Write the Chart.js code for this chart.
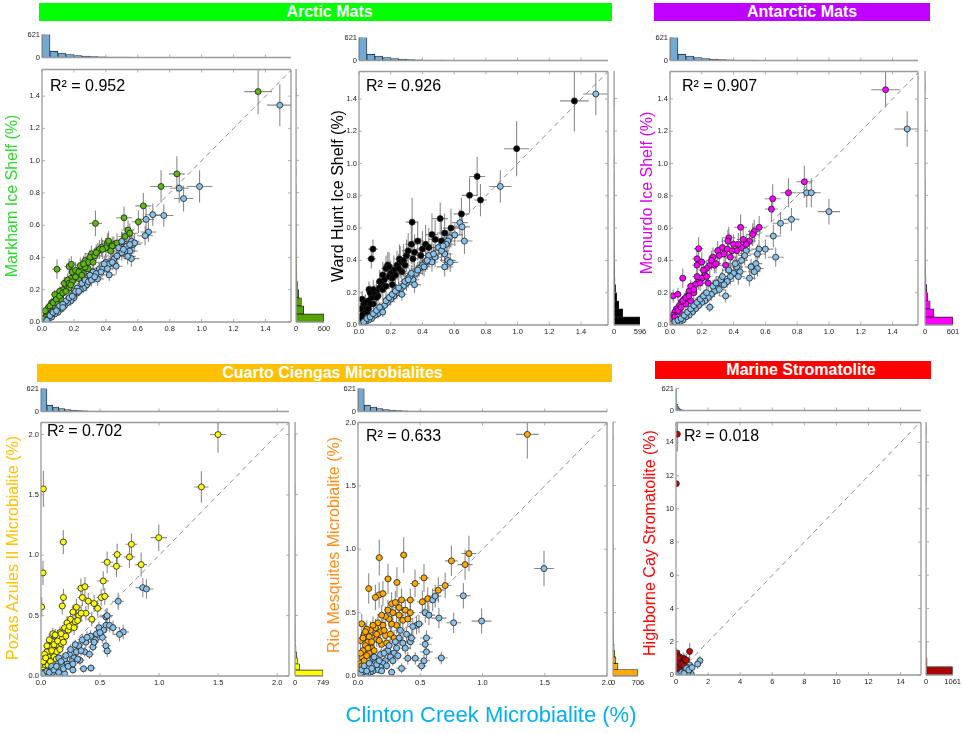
<!DOCTYPE html>
<html>
<head>
<meta charset="utf-8">
<script src="https://cdn.jsdelivr.net/npm/chart.js@4.4.1/dist/chart.umd.min.js"></script>
<style>
  body { margin: 0; width: 964px; height: 734px; position: relative; background: #fff; overflow: hidden;
         font-family: 'Liberation Sans', Arial, sans-serif; }
  .box { position: absolute; }
  .hdr { position: absolute; color: #fff; font-weight: bold; font-size: 16px; line-height: 18px; text-align: center; box-sizing: border-box; }
  .ytitle { position: absolute; font-size: 16px; white-space: nowrap; transform: translate(-50%, -50%) rotate(-90deg); }
  .r2 { position: absolute; font-size: 16px; line-height: 16px; white-space: nowrap; }
  .xtitle { position: absolute; font-size: 22px; white-space: nowrap; color: #00b0f0; transform: translateX(-50%); }
</style>
</head>
<body>
<script>
// ---- data: [x (Clinton Creek %), y (sample %), x error, y error] ----
var markhamPts = [
  [1.354,1.428,0.087,0.14],[0.845,0.918,0.05,0.11],[0.746,0.84,0.07,0.1],[0.635,0.72,0.05,0.08],
  [0.335,0.611,0.04,0.08],[0.514,0.646,0.05,0.07],[0.604,0.621,0.04,0.07],[0.539,0.57,0.04,0.06],
  [0.52,0.53,0.04,0.06],[0.094,0.327,0.03,0.06],[0.17,0.344,0.03,0.05],[0.184,0.358,0.03,0.05],
  [0.409,0.488,0.04,0.06],[0.417,0.502,0.04,0.06],[0.45,0.48,0.04,0.05],[0.47,0.49,0.05,0.06],
  [0.373,0.463,0.04,0.06],[0.31,0.422,0.04,0.05],[0.35,0.44,0.04,0.05],[0.28,0.36,0.03,0.05],
  [0.25,0.33,0.03,0.05],[0.22,0.30,0.03,0.04],[0.20,0.28,0.03,0.04],[0.18,0.27,0.03,0.04],
  [0.15,0.22,0.02,0.04],[0.13,0.20,0.02,0.03],[0.12,0.17,0.02,0.03],[0.10,0.15,0.02,0.03],
  [0.08,0.13,0.02,0.03],[0.07,0.10,0.02,0.02],[0.05,0.08,0.01,0.02],[0.04,0.06,0.01,0.02],
  [0.03,0.05,0.01,0.01],[0.02,0.03,0.01,0.01],[0.01,0.02,0.01,0.01],[0.06,0.12,0.02,0.03],
  [0.09,0.16,0.02,0.03],[0.11,0.19,0.02,0.03],[0.14,0.24,0.03,0.04],[0.16,0.26,0.03,0.04],
  [0.19,0.31,0.03,0.04],[0.21,0.32,0.03,0.05],[0.24,0.35,0.03,0.05],[0.27,0.38,0.03,0.05],
  [0.30,0.40,0.04,0.05],[0.33,0.41,0.04,0.05],[0.36,0.45,0.04,0.06],[0.40,0.46,0.04,0.06],
  [0.44,0.47,0.04,0.06],[0.50,0.50,0.05,0.06],[0.55,0.55,0.05,0.06],[0.08,0.17,0.02,0.03],
  [0.23,0.27,0.03,0.04],[0.26,0.30,0.03,0.04],[0.29,0.33,0.03,0.04],[0.12,0.14,0.02,0.03],
  [0.17,0.21,0.03,0.03],[0.04,0.09,0.01,0.02],[0.02,0.07,0.01,0.02],
  [0.05,0.10,0.01,0.02],[0.07,0.12,0.02,0.02],[0.09,0.14,0.02,0.03],[0.11,0.16,0.02,0.03],
  [0.13,0.18,0.02,0.03],[0.15,0.19,0.02,0.03],[0.17,0.24,0.03,0.04],[0.19,0.25,0.03,0.04],
  [0.21,0.28,0.03,0.04],[0.23,0.31,0.03,0.04],[0.25,0.29,0.03,0.04],[0.27,0.34,0.03,0.05],
  [0.29,0.37,0.03,0.05],[0.32,0.37,0.04,0.05],[0.34,0.43,0.04,0.05],[0.38,0.45,0.04,0.06],
  [0.43,0.44,0.04,0.06],[0.26,0.36,0.03,0.05],[0.18,0.23,0.03,0.04],[0.10,0.11,0.02,0.02]
];
var markhamBlue = [
  [1.49,1.344,0.08,0.13],[0.987,0.84,0.08,0.1],[0.86,0.829,0.06,0.09],[0.887,0.765,0.06,0.08],
  [0.763,0.66,0.06,0.07],[0.694,0.665,0.05,0.07],[0.652,0.636,0.05,0.07],[0.667,0.558,0.05,0.06],
  [0.646,0.535,0.05,0.06],[0.56,0.50,0.05,0.06],[0.57,0.48,0.05,0.06],[0.55,0.44,0.05,0.05],
  [0.56,0.393,0.05,0.05],[0.537,0.407,0.05,0.05],[0.52,0.44,0.04,0.05],[0.50,0.50,0.04,0.06],
  [0.48,0.46,0.04,0.05],[0.465,0.346,0.04,0.05],[0.421,0.292,0.04,0.04],[0.348,0.267,0.04,0.04],
  [0.40,0.37,0.04,0.05],[0.36,0.33,0.04,0.04],[0.32,0.31,0.03,0.04],[0.30,0.27,0.03,0.04],
  [0.28,0.23,0.03,0.04],[0.26,0.21,0.03,0.03],[0.24,0.20,0.03,0.03],[0.22,0.18,0.03,0.03],
  [0.20,0.15,0.02,0.03],[0.18,0.13,0.02,0.03],[0.16,0.12,0.02,0.02],[0.14,0.10,0.02,0.02],
  [0.12,0.08,0.02,0.02],[0.10,0.06,0.02,0.02],[0.08,0.05,0.01,0.02],[0.06,0.03,0.01,0.01],
  [0.04,0.02,0.01,0.01],[0.03,0.01,0.01,0.01],[0.06,0.05,0.01,0.02],[0.10,0.09,0.02,0.02],
  [0.15,0.13,0.02,0.03],[0.20,0.18,0.03,0.03],[0.25,0.24,0.03,0.04],[0.30,0.29,0.03,0.04],
  [0.34,0.30,0.04,0.04],[0.38,0.33,0.04,0.05],[0.42,0.36,0.04,0.05],[0.45,0.39,0.04,0.05],
  [0.50,0.43,0.04,0.05],[0.53,0.47,0.05,0.05],[0.58,0.49,0.05,0.06],[0.27,0.26,0.03,0.04],
  [0.22,0.21,0.03,0.03],
  [0.05,0.04,0.01,0.01],[0.07,0.06,0.01,0.02],[0.09,0.07,0.02,0.02],[0.11,0.10,0.02,0.02],
  [0.13,0.11,0.02,0.02],[0.17,0.15,0.02,0.03],[0.19,0.16,0.03,0.03],[0.21,0.19,0.03,0.03],
  [0.23,0.19,0.03,0.03],[0.29,0.25,0.03,0.04],[0.31,0.26,0.03,0.04],[0.33,0.28,0.04,0.04],
  [0.37,0.31,0.04,0.04],[0.39,0.36,0.04,0.05],[0.41,0.33,0.04,0.05],[0.44,0.37,0.04,0.05],
  [0.47,0.41,0.04,0.05],[0.51,0.45,0.05,0.05],[0.55,0.48,0.05,0.06],[0.13,0.09,0.02,0.02]
];
var wardPts = [
  [1.358,1.388,0.09,0.19],[0.994,1.092,0.08,0.17],[0.745,0.92,0.05,0.12],[0.697,0.803,0.05,0.11],
  [0.766,0.774,0.04,0.1],[0.646,0.688,0.05,0.1],[0.512,0.659,0.05,0.1],[0.335,0.637,0.04,0.15],
  [0.088,0.47,0.03,0.06],[0.078,0.41,0.03,0.06],[0.063,0.22,0.02,0.05],[0.181,0.372,0.03,0.08],
  [0.17,0.35,0.03,0.08],[0.255,0.409,0.03,0.09],[0.30,0.43,0.03,0.1],[0.26,0.39,0.03,0.1],
  [0.24,0.37,0.03,0.09],[0.22,0.34,0.03,0.09],[0.20,0.32,0.03,0.08],[0.19,0.30,0.03,0.08],
  [0.16,0.28,0.02,0.08],[0.14,0.26,0.02,0.07],[0.13,0.23,0.02,0.07],[0.11,0.21,0.02,0.06],
  [0.10,0.19,0.02,0.06],[0.08,0.17,0.02,0.05],[0.06,0.15,0.02,0.05],[0.05,0.12,0.01,0.04],
  [0.04,0.10,0.01,0.04],[0.03,0.08,0.01,0.03],[0.02,0.06,0.01,0.03],[0.01,0.04,0.01,0.02],
  [0.02,0.16,0.01,0.05],[0.01,0.10,0.01,0.04],[0.03,0.13,0.01,0.04],[0.12,0.18,0.02,0.06],
  [0.15,0.22,0.02,0.07],[0.28,0.40,0.03,0.1],[0.35,0.45,0.04,0.11],[0.40,0.47,0.04,0.11],
  [0.42,0.50,0.04,0.12],[0.48,0.53,0.04,0.12],[0.54,0.57,0.05,0.12],[0.58,0.60,0.05,0.12],
  [0.33,0.50,0.04,0.12],[0.37,0.52,0.04,0.12],[0.21,0.25,0.03,0.07],[0.09,0.13,0.02,0.05],
  [0.07,0.20,0.02,0.05],[0.27,0.33,0.03,0.08],
  [0.04,0.14,0.01,0.05],[0.05,0.08,0.01,0.03],[0.07,0.13,0.02,0.04],[0.09,0.22,0.02,0.06],
  [0.11,0.17,0.02,0.05],[0.13,0.27,0.02,0.07],[0.15,0.31,0.02,0.08],[0.17,0.24,0.03,0.07],
  [0.19,0.36,0.03,0.09],[0.21,0.29,0.03,0.08],[0.23,0.31,0.03,0.08],[0.25,0.35,0.03,0.09],
  [0.29,0.37,0.03,0.1],[0.31,0.46,0.04,0.11],[0.34,0.41,0.04,0.1],[0.39,0.43,0.04,0.11],
  [0.44,0.48,0.04,0.12],[0.46,0.56,0.04,0.13],[0.52,0.52,0.05,0.12],[0.06,0.10,0.02,0.04]
];
var wardBlue = [
  [1.493,1.431,0.08,0.13],[0.891,0.858,0.07,0.1],[0.665,0.52,0.05,0.08],[0.636,0.634,0.05,0.08],
  [0.65,0.608,0.05,0.08],[0.604,0.558,0.05,0.07],[0.57,0.54,0.05,0.07],[0.56,0.52,0.05,0.07],
  [0.55,0.50,0.05,0.07],[0.54,0.44,0.05,0.06],[0.56,0.40,0.05,0.06],[0.575,0.388,0.05,0.06],
  [0.50,0.48,0.04,0.07],[0.48,0.42,0.04,0.06],[0.46,0.39,0.04,0.06],[0.44,0.43,0.04,0.06],
  [0.42,0.39,0.04,0.06],[0.40,0.37,0.04,0.06],[0.38,0.35,0.04,0.05],[0.36,0.32,0.04,0.05],
  [0.34,0.28,0.04,0.05],[0.32,0.30,0.03,0.05],[0.30,0.26,0.03,0.05],[0.28,0.24,0.03,0.04],
  [0.26,0.22,0.03,0.04],[0.24,0.20,0.03,0.04],[0.22,0.18,0.03,0.04],[0.20,0.16,0.03,0.04],
  [0.18,0.14,0.02,0.03],[0.16,0.12,0.02,0.03],[0.14,0.10,0.02,0.03],[0.12,0.07,0.02,0.03],
  [0.10,0.06,0.02,0.02],[0.08,0.04,0.01,0.02],[0.06,0.03,0.01,0.02],[0.04,0.02,0.01,0.01],
  [0.02,0.01,0.01,0.01],[0.35,0.25,0.04,0.05],[0.27,0.19,0.03,0.04],[0.15,0.08,0.02,0.03],
  [0.54,0.36,0.05,0.06],
  [0.03,0.02,0.01,0.01],[0.05,0.04,0.01,0.01],[0.07,0.05,0.01,0.02],[0.09,0.07,0.02,0.02],
  [0.11,0.09,0.02,0.02],[0.13,0.11,0.02,0.03],[0.17,0.15,0.02,0.03],[0.19,0.17,0.03,0.03],
  [0.21,0.19,0.03,0.04],[0.23,0.21,0.03,0.04],[0.25,0.23,0.03,0.04],[0.29,0.27,0.03,0.05],
  [0.31,0.28,0.03,0.05],[0.33,0.32,0.04,0.05],[0.37,0.34,0.04,0.05],[0.41,0.36,0.04,0.06],
  [0.43,0.40,0.04,0.06],[0.47,0.44,0.04,0.06],[0.52,0.46,0.05,0.07],[0.53,0.49,0.05,0.07]
];
var mcmurdoPts = [
  [1.356,1.457,0.09,0.11],[0.845,0.887,0.05,0.1],[0.745,0.819,0.05,0.09],[0.646,0.782,0.05,0.09],
  [0.638,0.718,0.04,0.08],[0.444,0.605,0.04,0.08],[0.561,0.605,0.04,0.07],[0.53,0.58,0.04,0.07],
  [0.52,0.56,0.04,0.07],[0.50,0.52,0.04,0.07],[0.37,0.54,0.04,0.07],[0.364,0.52,0.04,0.07],
  [0.18,0.473,0.03,0.07],[0.17,0.41,0.03,0.06],[0.17,0.37,0.03,0.06],[0.20,0.39,0.03,0.06],
  [0.08,0.29,0.02,0.06],[0.02,0.18,0.01,0.04],[0.05,0.19,0.02,0.04],[0.30,0.46,0.03,0.06],
  [0.33,0.48,0.04,0.06],[0.27,0.42,0.03,0.06],[0.25,0.37,0.03,0.06],[0.23,0.35,0.03,0.05],
  [0.22,0.31,0.03,0.05],[0.20,0.29,0.03,0.05],[0.18,0.27,0.03,0.05],[0.16,0.25,0.02,0.05],
  [0.14,0.23,0.02,0.04],[0.12,0.21,0.02,0.04],[0.11,0.18,0.02,0.04],[0.09,0.16,0.02,0.04],
  [0.07,0.14,0.02,0.03],[0.06,0.12,0.02,0.03],[0.04,0.10,0.01,0.03],[0.03,0.08,0.01,0.02],
  [0.02,0.06,0.01,0.02],[0.01,0.04,0.01,0.02],[0.06,0.08,0.01,0.02],[0.10,0.13,0.02,0.03],
  [0.15,0.20,0.02,0.04],[0.28,0.37,0.03,0.05],[0.35,0.37,0.04,0.05],[0.38,0.42,0.04,0.06],
  [0.42,0.46,0.04,0.06],[0.45,0.48,0.04,0.06],[0.48,0.50,0.04,0.06],[0.40,0.50,0.04,0.06],
  [0.24,0.26,0.03,0.04],[0.13,0.15,0.02,0.03],
  [0.03,0.05,0.01,0.02],[0.05,0.09,0.01,0.02],[0.07,0.11,0.02,0.03],[0.08,0.15,0.02,0.03],
  [0.10,0.17,0.02,0.04],[0.12,0.18,0.02,0.04],[0.13,0.24,0.02,0.04],[0.15,0.22,0.02,0.04],
  [0.17,0.30,0.03,0.05],[0.19,0.26,0.03,0.05],[0.21,0.34,0.03,0.05],[0.23,0.30,0.03,0.05],
  [0.26,0.40,0.03,0.06],[0.29,0.38,0.03,0.06],[0.31,0.43,0.04,0.06],[0.34,0.44,0.04,0.06],
  [0.36,0.47,0.04,0.06],[0.39,0.46,0.04,0.06],[0.43,0.50,0.04,0.07],[0.46,0.53,0.04,0.07]
];
var mcmurdoBlue = [
  [1.492,1.214,0.08,0.11],[1.0,0.702,0.07,0.08],[0.86,0.819,0.06,0.09],[0.889,0.819,0.06,0.09],
  [0.764,0.654,0.05,0.07],[0.695,0.63,0.05,0.07],[0.65,0.551,0.05,0.07],[0.665,0.42,0.05,0.06],
  [0.60,0.47,0.05,0.06],[0.56,0.47,0.05,0.06],[0.55,0.44,0.05,0.06],[0.54,0.38,0.04,0.05],
  [0.55,0.35,0.04,0.05],[0.53,0.33,0.04,0.05],[0.50,0.29,0.04,0.05],[0.48,0.46,0.04,0.06],
  [0.45,0.40,0.04,0.05],[0.42,0.36,0.04,0.05],[0.40,0.32,0.04,0.05],[0.38,0.30,0.04,0.05],
  [0.36,0.27,0.04,0.04],[0.34,0.25,0.03,0.04],[0.32,0.28,0.03,0.04],[0.30,0.23,0.03,0.04],
  [0.28,0.21,0.03,0.04],[0.26,0.19,0.03,0.04],[0.24,0.17,0.03,0.03],[0.22,0.15,0.03,0.03],
  [0.20,0.14,0.02,0.03],[0.18,0.12,0.02,0.03],[0.16,0.10,0.02,0.03],[0.14,0.08,0.02,0.02],
  [0.12,0.06,0.02,0.02],[0.10,0.05,0.02,0.02],[0.08,0.03,0.01,0.02],[0.06,0.02,0.01,0.01],
  [0.04,0.01,0.01,0.01],[0.35,0.18,0.04,0.04],[0.25,0.11,0.03,0.03],[0.44,0.33,0.04,0.05],
  [0.03,0.02,0.01,0.01],[0.05,0.03,0.01,0.01],[0.07,0.04,0.01,0.02],[0.09,0.06,0.02,0.02],
  [0.11,0.08,0.02,0.02],[0.13,0.10,0.02,0.02],[0.15,0.12,0.02,0.03],[0.17,0.14,0.02,0.03],
  [0.19,0.16,0.03,0.03],[0.21,0.18,0.03,0.03],[0.23,0.20,0.03,0.04],[0.27,0.24,0.03,0.04],
  [0.29,0.26,0.03,0.04],[0.31,0.22,0.03,0.04],[0.33,0.30,0.04,0.05],[0.37,0.34,0.04,0.05],
  [0.41,0.38,0.04,0.05],[0.43,0.30,0.04,0.05],[0.47,0.43,0.04,0.06],[0.51,0.36,0.04,0.05]
];
var pozasPts = [
  [1.499,2.0,0.07,0.15],[1.358,1.566,0.06,0.13],[0.02,1.55,0.01,0.15],[0.997,1.146,0.07,0.11],
  [0.189,1.11,0.03,0.1],[0.766,1.091,0.05,0.09],[0.645,1.006,0.04,0.09],[0.749,0.986,0.05,0.09],
  [0.56,0.942,0.05,0.09],[0.639,0.909,0.05,0.09],[0.848,0.923,0.05,0.1],[0.017,0.854,0.01,0.1],
  [0.527,0.787,0.05,0.08],[0.338,0.727,0.04,0.08],[0.372,0.74,0.04,0.08],[0.006,0.572,0.01,0.08],
  [0.19,0.65,0.03,0.07],[0.18,0.58,0.03,0.07],[0.51,0.65,0.04,0.07],[0.54,0.66,0.04,0.07],
  [0.35,0.65,0.04,0.07],[0.30,0.57,0.04,0.07],[0.27,0.53,0.03,0.06],[0.40,0.62,0.04,0.07],
  [0.38,0.52,0.04,0.06],[0.25,0.47,0.03,0.06],[0.22,0.44,0.03,0.06],[0.26,0.42,0.03,0.06],
  [0.20,0.40,0.03,0.05],[0.10,0.35,0.03,0.05],[0.16,0.36,0.03,0.05],[0.14,0.33,0.03,0.05],
  [0.18,0.31,0.03,0.05],[0.12,0.28,0.02,0.05],[0.15,0.25,0.02,0.04],[0.10,0.22,0.02,0.04],
  [0.08,0.19,0.02,0.04],[0.06,0.16,0.02,0.04],[0.05,0.13,0.02,0.03],[0.04,0.10,0.01,0.03],
  [0.03,0.07,0.01,0.03],[0.02,0.05,0.01,0.02],[0.01,0.03,0.01,0.02],[0.07,0.24,0.02,0.04],
  [0.09,0.29,0.02,0.05],[0.13,0.20,0.02,0.04],[0.17,0.27,0.03,0.05],[0.23,0.38,0.03,0.06],
  [0.29,0.45,0.03,0.06],[0.32,0.50,0.04,0.06],[0.45,0.60,0.04,0.07],[0.48,0.56,0.04,0.07],
  [0.43,0.47,0.04,0.06],[0.05,0.20,0.02,0.04],[0.11,0.16,0.02,0.03],
  [0.02,0.12,0.01,0.03],[0.03,0.18,0.01,0.04],[0.04,0.15,0.01,0.03],[0.05,0.25,0.02,0.05],
  [0.06,0.09,0.02,0.03],[0.07,0.30,0.02,0.05],[0.08,0.12,0.02,0.03],[0.09,0.21,0.02,0.04],
  [0.11,0.26,0.02,0.05],[0.12,0.34,0.02,0.05],[0.13,0.14,0.02,0.03],[0.14,0.29,0.03,0.05],
  [0.16,0.22,0.03,0.04],[0.17,0.35,0.03,0.05],[0.19,0.28,0.03,0.05],[0.21,0.33,0.03,0.05],
  [0.24,0.41,0.03,0.06],[0.28,0.40,0.03,0.06],[0.31,0.46,0.04,0.06],[0.34,0.52,0.04,0.07]
];
var pozasBlue = [
  [0.862,0.732,0.06,0.08],[0.893,0.721,0.06,0.08],[0.654,0.619,0.05,0.07],[0.696,0.365,0.05,0.06],
  [0.665,0.345,0.05,0.06],[0.55,0.49,0.05,0.06],[0.56,0.50,0.05,0.06],[0.55,0.42,0.05,0.06],
  [0.53,0.38,0.04,0.06],[0.49,0.40,0.04,0.05],[0.55,0.25,0.04,0.05],[0.561,0.207,0.04,0.05],
  [0.423,0.066,0.04,0.03],[0.46,0.30,0.04,0.05],[0.42,0.33,0.04,0.05],[0.38,0.28,0.04,0.05],
  [0.35,0.30,0.04,0.05],[0.32,0.25,0.03,0.04],[0.30,0.20,0.03,0.04],[0.28,0.15,0.03,0.04],
  [0.26,0.12,0.03,0.03],[0.24,0.18,0.03,0.04],[0.22,0.10,0.03,0.03],[0.20,0.14,0.02,0.03],
  [0.18,0.08,0.02,0.03],[0.16,0.05,0.02,0.02],[0.14,0.10,0.02,0.03],[0.12,0.06,0.02,0.02],
  [0.10,0.03,0.02,0.02],[0.08,0.05,0.02,0.02],[0.06,0.02,0.01,0.01],[0.04,0.01,0.01,0.01],
  [0.03,0.03,0.01,0.01],[0.27,0.05,0.03,0.03],[0.33,0.13,0.04,0.04],[0.37,0.20,0.04,0.04],
  [0.47,0.35,0.04,0.05],[0.52,0.32,0.04,0.05],[0.58,0.42,0.05,0.06],[0.61,0.40,0.05,0.06],
  [0.44,0.24,0.04,0.04],[0.36,0.06,0.04,0.03],[0.20,0.02,0.02,0.02],[0.15,0.15,0.02,0.03],
  [0.02,0.02,0.01,0.01],[0.05,0.04,0.01,0.01],[0.07,0.03,0.01,0.01],[0.09,0.08,0.02,0.02],
  [0.11,0.05,0.02,0.02],[0.13,0.08,0.02,0.02],[0.15,0.03,0.02,0.02],[0.17,0.12,0.02,0.03],
  [0.19,0.06,0.02,0.02],[0.21,0.17,0.03,0.03],[0.23,0.08,0.03,0.03],[0.25,0.22,0.03,0.04],
  [0.27,0.10,0.03,0.03],[0.29,0.26,0.03,0.04],[0.31,0.14,0.03,0.04],[0.34,0.21,0.04,0.04],
  [0.39,0.32,0.04,0.05],[0.41,0.18,0.04,0.04],[0.45,0.28,0.04,0.05],[0.50,0.36,0.04,0.05]
];
var rioPts = [
  [1.36,1.906,0.09,0.19],[0.891,0.966,0.06,0.14],[0.86,0.879,0.06,0.12],[0.75,0.908,0.05,0.12],
  [0.70,0.714,0.05,0.1],[0.645,0.677,0.05,0.1],[0.367,0.955,0.03,0.14],[0.171,0.934,0.03,0.14],
  [0.086,0.69,0.02,0.12],[0.313,0.738,0.03,0.12],[0.241,0.766,0.03,0.12],[0.458,0.73,0.04,0.11],
  [0.53,0.774,0.04,0.11],[0.517,0.585,0.04,0.09],[0.56,0.61,0.04,0.09],[0.42,0.60,0.04,0.09],
  [0.17,0.64,0.03,0.1],[0.20,0.65,0.03,0.1],[0.14,0.62,0.03,0.1],[0.03,0.412,0.02,0.08],
  [0.27,0.57,0.03,0.09],[0.30,0.58,0.03,0.09],[0.35,0.60,0.04,0.09],[0.38,0.52,0.04,0.08],
  [0.33,0.48,0.04,0.08],[0.28,0.50,0.03,0.08],[0.25,0.45,0.03,0.08],[0.22,0.47,0.03,0.08],
  [0.20,0.40,0.03,0.07],[0.16,0.42,0.03,0.07],[0.18,0.35,0.03,0.07],[0.14,0.38,0.03,0.07],
  [0.10,0.36,0.02,0.07],[0.12,0.30,0.02,0.06],[0.08,0.27,0.02,0.06],[0.06,0.24,0.02,0.05],
  [0.04,0.20,0.02,0.05],[0.03,0.15,0.01,0.04],[0.02,0.10,0.01,0.04],[0.01,0.06,0.01,0.03],
  [0.005,0.02,0.01,0.02],[0.07,0.37,0.02,0.07],[0.15,0.29,0.02,0.06],[0.22,0.32,0.03,0.06],
  [0.26,0.33,0.03,0.06],[0.31,0.40,0.03,0.07],[0.36,0.44,0.04,0.07],[0.40,0.45,0.04,0.07],
  [0.42,0.50,0.04,0.08],[0.09,0.18,0.02,0.05],[0.11,0.22,0.02,0.05],[0.19,0.25,0.03,0.05],
  [0.02,0.28,0.01,0.05],[0.05,0.33,0.02,0.06],
  [0.02,0.18,0.01,0.05],[0.03,0.08,0.01,0.03],[0.04,0.30,0.02,0.06],[0.05,0.12,0.02,0.04],
  [0.06,0.35,0.02,0.07],[0.07,0.16,0.02,0.04],[0.08,0.22,0.02,0.05],[0.09,0.31,0.02,0.06],
  [0.11,0.27,0.02,0.06],[0.12,0.40,0.02,0.07],[0.13,0.20,0.02,0.05],[0.15,0.33,0.03,0.06],
  [0.17,0.28,0.03,0.06],[0.19,0.48,0.03,0.08],[0.21,0.36,0.03,0.07],[0.23,0.26,0.03,0.06],
  [0.24,0.52,0.03,0.08],[0.27,0.41,0.03,0.07],[0.29,0.30,0.03,0.06],[0.33,0.54,0.04,0.08]
];
var rioBlue = [
  [1.494,0.848,0.08,0.14],[0.993,0.433,0.08,0.1],[0.846,0.633,0.06,0.1],[0.768,0.42,0.06,0.08],
  [0.65,0.457,0.06,0.08],[0.669,0.142,0.05,0.05],[0.60,0.60,0.05,0.09],[0.62,0.63,0.05,0.09],
  [0.54,0.50,0.05,0.08],[0.57,0.48,0.05,0.08],[0.55,0.30,0.05,0.06],[0.54,0.25,0.05,0.06],
  [0.55,0.19,0.05,0.05],[0.53,0.12,0.05,0.05],[0.51,0.08,0.04,0.04],[0.47,0.40,0.04,0.07],
  [0.44,0.39,0.04,0.07],[0.42,0.27,0.04,0.06],[0.39,0.33,0.04,0.06],[0.36,0.26,0.04,0.06],
  [0.33,0.30,0.04,0.06],[0.31,0.22,0.03,0.05],[0.29,0.18,0.03,0.05],[0.26,0.15,0.03,0.05],
  [0.24,0.20,0.03,0.05],[0.22,0.12,0.03,0.04],[0.20,0.10,0.03,0.04],[0.18,0.07,0.02,0.04],
  [0.16,0.05,0.02,0.03],[0.14,0.11,0.02,0.04],[0.12,0.04,0.02,0.03],[0.10,0.03,0.02,0.02],
  [0.08,0.02,0.02,0.02],[0.06,0.01,0.01,0.02],[0.04,0.03,0.01,0.02],[0.35,0.06,0.04,0.04],
  [0.40,0.14,0.04,0.05],[0.27,0.03,0.03,0.03],[0.46,0.14,0.04,0.05],[0.18,0.17,0.02,0.04],
  [0.12,0.14,0.02,0.04],
  [0.02,0.02,0.01,0.01],[0.03,0.05,0.01,0.02],[0.05,0.08,0.01,0.02],[0.07,0.04,0.01,0.02],
  [0.09,0.10,0.02,0.03],[0.11,0.06,0.02,0.02],[0.13,0.15,0.02,0.04],[0.15,0.09,0.02,0.03],
  [0.17,0.12,0.02,0.03],[0.19,0.04,0.02,0.02],[0.21,0.18,0.03,0.04],[0.23,0.08,0.03,0.03],
  [0.25,0.24,0.03,0.05],[0.28,0.12,0.03,0.04],[0.30,0.27,0.03,0.05],[0.32,0.16,0.03,0.04],
  [0.34,0.36,0.04,0.06],[0.38,0.22,0.04,0.05],[0.43,0.30,0.04,0.06],[0.49,0.41,0.04,0.07]
];
var highbornePts = [
  [0.083,14.5,0.05,1.05],[0.02,11.52,0.03,0.2],[0.04,1.32,0.05,0.3],[0.85,1.42,0.1,0.5],
  [0.45,1.0,0.08,0.35],[0.30,0.9,0.06,0.35],[0.50,0.8,0.08,0.3],[0.20,0.7,0.05,0.3],
  [0.10,0.6,0.04,0.25],[0.35,0.5,0.06,0.25],[0.60,0.6,0.08,0.25],[0.15,0.4,0.04,0.2],
  [0.25,0.3,0.05,0.2],[0.05,0.2,0.03,0.15],[0.40,0.7,0.06,0.3],[0.12,0.9,0.04,0.3],
  [0.28,0.45,0.05,0.2],[0.02,0.5,0.03,0.2],[0.55,0.95,0.08,0.35],[0.08,0.35,0.03,0.2],
  [0.18,0.15,0.04,0.1],[0.06,0.8,0.03,0.3],[0.22,1.1,0.05,0.4],[0.33,0.65,0.06,0.25],
  [0.48,0.55,0.07,0.25],[0.65,0.9,0.08,0.35],[0.14,1.05,0.04,0.35],[0.38,0.25,0.06,0.15],
  [0.70,0.35,0.08,0.2]
];
var highborneBlue = [
  [1.49,0.86,0.08,0.3],[1.35,0.66,0.07,0.3],[0.85,0.60,0.06,0.2],[0.70,0.45,0.06,0.2],
  [0.60,0.30,0.05,0.15],[0.45,0.20,0.05,0.1],[0.30,0.10,0.04,0.08],[0.95,0.05,0.06,0.05],
  [0.20,0.05,0.03,0.05],[0.55,0.25,0.05,0.1],[0.75,0.15,0.06,0.1],[0.40,0.08,0.04,0.05],
  [0.15,0.03,0.03,0.03],[0.35,0.15,0.04,0.08],[0.50,0.10,0.05,0.06],[0.65,0.40,0.06,0.15],
  [0.80,0.30,0.06,0.15],[1.00,0.45,0.07,0.2]
];

// histogram counts (bins of 0.05 %, except Highborne: 0.5 %)
var clintonHist = [621,171,121,80,52,38,25,18,13,10,8,6,5,4,3,3,2,2,2,1,1,1,1,1,0,0,1,1,0,1,0];
var markhamHist = [600,165,115,55,30,18,12,8,5,4,3,2,2,1,1,1,1,0,1,0,0,0,0,0,0,0,0,0,1,0,0];
var wardHist = [596,200,110,60,35,20,14,10,7,5,4,3,2,2,1,1,1,1,1,0,1,0,0,0,0,0,0,1,0,0,0];
var mcmurdoHist = [601,190,110,60,35,20,12,8,6,4,3,2,2,1,1,1,1,1,0,0,0,0,0,0,1,0,0,0,0,1,0];
var pozasHist = [749,120,65,40,25,15,10,7,5,4,3,3,2,2,2,1,1,1,1,1,1,1,1,0,0,0,0,0,0,0,1,1,0,0,0,0,0,0,0,1,0,0];
var rioHist = [706,140,80,50,30,20,13,9,6,5,4,3,3,2,2,1,1,1,1,1,1,0,0,0,0,0,0,0,0,0,0,0,0,0,0,0,0,1,0,0];
var highborneHist = [1061,40,3,1,0,0,0,0,0,0,0,0,0,0,0,0,0,0,0,0,0,0,0,1,0,0,0,0,0,1,0];

// tick labels
var ticksTenth = [0, 0.2, 0.4, 0.6, 0.8, 1.0, 1.2, 1.4];
var ticksHalf = [0, 0.5, 1.0, 1.5, 2.0];
var ticksTwo = [0, 2, 4, 6, 8, 10, 12, 14];

var r2Values = ['0.952', '0.926', '0.907', '0.702', '0.633', '0.018'];

// ---- setup ----
Chart.defaults.font.family = "'Liberation Sans', Arial, sans-serif";
Chart.defaults.font.size = 7.5;
Chart.defaults.color = '#222';
Chart.defaults.animation = false;

var BLUE = '#88c2ea';
var HIST_BLUE = '#72aad6';
var PAD = {l: 4, r: 10, t: 6, b: 2};

var panels = [
  {title: 'Markham Ice Shelf (%)', titleColor: '#2fd82f', titlePos: [12, 196], pts: markhamPts, blue: markhamBlue,
   color: '#5cb811', hist: markhamHist, histColor: '#55a300', histMax: 600, bin: 0.05, xmax: 1.56, ymax: 1.565,
   ticks: ticksTenth, dec: 1, r2Pos: [50, 78],
   main: {x: 42, y: 69, w: 249, h: 253}, top: {x: 42, y: 34, w: 249, h: 28}, right: {x: 296, y: 69, w: 28, h: 253}},
  {title: 'Ward Hunt Ice Shelf (%)', titleColor: '#000', titlePos: [338, 196], pts: wardPts, blue: wardBlue,
   color: '#000', hist: wardHist, histColor: '#000', histMax: 596, bin: 0.05, xmax: 1.57, ymax: 1.57,
   ticks: ticksTenth, dec: 1, r2Pos: [366, 78],
   main: {x: 359, y: 71, w: 249, h: 254}, top: {x: 359, y: 37, w: 249, h: 28}, right: {x: 614, y: 71, w: 26, h: 254}},
  {title: 'Mcmurdo Ice Shelf (%)', titleColor: '#dd00ee', titlePos: [647, 193], pts: mcmurdoPts, blue: mcmurdoBlue,
   color: '#ff00ff', hist: mcmurdoHist, histColor: '#ff00ff', histMax: 601, bin: 0.05, xmax: 1.56, ymax: 1.57,
   ticks: ticksTenth, dec: 1, r2Pos: [682, 78],
   main: {x: 670, y: 71, w: 248, h: 254}, top: {x: 670, y: 37, w: 248, h: 28}, right: {x: 925, y: 71, w: 28, h: 254}},
  {title: 'Pozas Azules II Microbialite (%)', titleColor: '#ffc000', titlePos: [13, 548], pts: pozasPts, blue: pozasBlue,
   color: '#ffff00', hist: pozasHist, histColor: '#ffff00', histMax: 749, bin: 0.05, xmax: 2.1, ymax: 2.1,
   ticks: ticksHalf, dec: 1, r2Pos: [47, 423],
   main: {x: 41, y: 422, w: 248, h: 254}, top: {x: 41, y: 388, w: 248, h: 28}, right: {x: 295, y: 422, w: 28, h: 254}},
  {title: 'Rio Mesquites Microbialite (%)', titleColor: '#ff8c1a', titlePos: [334, 545], pts: rioPts, blue: rioBlue,
   color: '#ffaa00', hist: rioHist, histColor: '#ffaa00', histMax: 706, bin: 0.05, xmax: 2.0, ymax: 2.0,
   ticks: ticksHalf, dec: 1, r2Pos: [366, 428],
   main: {x: 358, y: 422, w: 249, h: 254}, top: {x: 358, y: 388, w: 249, h: 28}, right: {x: 613, y: 422, w: 25, h: 254}},
  {title: 'Highborne Cay Stromatolite (%)', titleColor: '#ff0000', titlePos: [650, 543], pts: highbornePts, blue: highborneBlue,
   color: '#c80000', hist: highborneHist, histColor: '#aa0000', histMax: 1061, bin: 0.5, xmax: 15.27, ymax: 15.2,
   ticks: ticksTwo, dec: 0, r2Pos: [684, 428],
   main: {x: 676, y: 422, w: 245, h: 253}, top: {x: 676, y: 388, w: 245, h: 27}, right: {x: 926, y: 422, w: 27, h: 253}}
];

var headers = [
  {text: 'Arctic Mats', bg: '#00ff00', x: 39, y: 3, w: 573, h: 18, shift: 4},
  {text: 'Antarctic Mats', bg: '#c000ff', x: 654, y: 3, w: 276, h: 18, shift: 10},
  {text: 'Cuarto Ciengas Microbialites', bg: '#ffc000', x: 37, y: 364, w: 575, h: 18, shift: 8},
  {text: 'Marine Stromatolite', bg: '#ff0000', x: 655, y: 361, w: 276, h: 18, shift: 8}
];

// ---- plugins ----
var errorBars = {
  id: 'errorBars',
  beforeDatasetsDraw: function(chart) {
    var ctx = chart.ctx, a = chart.chartArea, x = chart.scales.x, y = chart.scales.y;
    ctx.save();
    ctx.beginPath();
    ctx.rect(a.left, a.top, a.right - a.left, a.bottom - a.top);
    ctx.clip();
    ctx.strokeStyle = 'rgba(100,100,100,0.75)';
    ctx.lineWidth = 1.1;
    chart.data.datasets.forEach(function(ds) {
      if (!ds.err) return;
      ds.err.forEach(function(e) {
        var px = x.getPixelForValue(e[0]), py = y.getPixelForValue(e[1]);
        ctx.beginPath();
        ctx.moveTo(x.getPixelForValue(e[0] - e[2]), py);
        ctx.lineTo(x.getPixelForValue(e[0] + e[2]), py);
        ctx.moveTo(px, y.getPixelForValue(e[1] - e[3]));
        ctx.lineTo(px, y.getPixelForValue(e[1] + e[3]));
        ctx.stroke();
      });
    });
    ctx.restore();
  }
};

var frame = {
  id: 'frame',
  afterDraw: function(chart, args, o) {
    var ctx = chart.ctx, a = chart.chartArea, x = chart.scales.x, y = chart.scales.y;
    var sides = o.sides || '', L = 3;
    ctx.save();
    ctx.strokeStyle = '#9a9a9a';
    ctx.lineWidth = 1.3;
    ctx.beginPath();
    if (sides.indexOf('l') >= 0) { ctx.moveTo(a.left, a.top); ctx.lineTo(a.left, a.bottom); }
    if (sides.indexOf('r') >= 0) { ctx.moveTo(a.right, a.top); ctx.lineTo(a.right, a.bottom); }
    if (sides.indexOf('t') >= 0) { ctx.moveTo(a.left, a.top); ctx.lineTo(a.right, a.top); }
    if (sides.indexOf('b') >= 0) { ctx.moveTo(a.left, a.bottom); ctx.lineTo(a.right, a.bottom); }
    ctx.stroke();
    ctx.lineWidth = 0.8;
    ctx.beginPath();
    (o.xTicks || '').split('').forEach(function(s) {
      x.ticks.forEach(function(t) {
        var px = x.getPixelForValue(t.value);
        var y0 = s === 'b' ? a.bottom : a.top, d = s === 'b' ? -L : L;
        ctx.moveTo(px, y0); ctx.lineTo(px, y0 + d);
      });
    });
    (o.yTicks || '').split('').forEach(function(s) {
      y.ticks.forEach(function(t) {
        var py = y.getPixelForValue(t.value);
        var x0 = s === 'l' ? a.left : a.right, d = s === 'l' ? L : -L;
        ctx.moveTo(x0, py); ctx.lineTo(x0 + d, py);
      });
    });
    ctx.stroke();
    ctx.restore();
  }
};

// ---- helpers ----
function place(r, yW, xH) {
  var div = document.createElement('div');
  div.className = 'box';
  div.style.left = (r.x - PAD.l - yW) + 'px';
  div.style.top = (r.y - PAD.t) + 'px';
  div.style.width = (r.w + PAD.l + yW + PAD.r) + 'px';
  div.style.height = (r.h + PAD.t + xH + PAD.b) + 'px';
  var cv = document.createElement('canvas');
  div.appendChild(cv);
  document.body.appendChild(div);
  return cv;
}

function axis(max, ticks, fmt, size, vertical, showLabels) {
  return {
    type: 'linear', min: 0, max: max, offset: false,
    grid: {display: false, drawTicks: false, offset: false},
    border: {display: false},
    ticks: {display: showLabels, padding: 2, maxRotation: 0, autoSkip: false, callback: fmt},
    afterBuildTicks: function(s) { s.ticks = ticks.map(function(v) { return {value: v}; }); },
    afterFit: function(s) { if (vertical) s.width = size; else s.height = size; }
  };
}

function baseOptions(scales, frameOpts) {
  return {
    responsive: true, maintainAspectRatio: false, events: [],
    layout: {padding: {left: PAD.l, right: PAD.r, top: PAD.t, bottom: PAD.b}},
    plugins: {legend: {display: false}, tooltip: {enabled: false}, frame: frameOpts},
    scales: scales
  };
}

function toXY(e) { return {x: e[0], y: e[1]}; }

function drawPanel(p) {
  var fmt = function(v) { return v.toFixed(p.dec); };
  var plain = function(v) { return String(v); };

  // main scatter
  new Chart(place(p.main, 30, 16), {
    type: 'scatter',
    data: {datasets: [
      {data: p.blue.map(toXY), err: p.blue, backgroundColor: BLUE, borderColor: '#1e1e1e', borderWidth: 0.8, pointRadius: 3},
      {data: p.pts.map(toXY), err: p.pts, backgroundColor: p.color, borderColor: '#1e1e1e', borderWidth: 0.8, pointRadius: 3},
      {type: 'line', data: [{x: 0, y: 0}, {x: Math.max(p.xmax, p.ymax), y: Math.max(p.xmax, p.ymax)}],
       borderColor: '#8c8c8c', borderWidth: 1, borderDash: [5, 4], pointRadius: 0}
    ]},
    options: baseOptions({
      x: axis(p.xmax, p.ticks, fmt, 16, false, true),
      y: axis(p.ymax, p.ticks, fmt, 30, true, true)
    }, {sides: 'lrtb', xTicks: 'bt', yTicks: 'lr'}),
    plugins: [errorBars, frame]
  });

  // top histogram: Clinton Creek
  new Chart(place(p.top, 30, 0), {
    type: 'bar',
    data: {datasets: [{
      data: clintonHist.map(function(c, i) { return {x: (i + 0.5) * 0.05, y: c}; }),
      backgroundColor: HIST_BLUE, borderColor: '#222', borderWidth: 0.8, barPercentage: 1, categoryPercentage: 1
    }]},
    options: baseOptions({
      x: axis(p.xmax, p.ticks, fmt, 0, false, false),
      y: axis(621, [0, 621], plain, 30, true, true)
    }, {sides: 'lb', xTicks: 'b', yTicks: 'l'}),
    plugins: [frame]
  });

  // right histogram: sample
  new Chart(place(p.right, 0, 16), {
    type: 'bar',
    data: {datasets: [{
      data: p.hist.map(function(c, i) { return {x: c, y: (i + 0.5) * p.bin}; }),
      backgroundColor: p.histColor, borderColor: '#222', borderWidth: 0.8, barPercentage: 1, categoryPercentage: 1
    }]},
    options: Object.assign(baseOptions({
      x: axis(p.histMax, [0, p.histMax], plain, 16, false, true),
      y: axis(p.ymax, p.ticks, fmt, 0, true, false)
    }, {sides: 'lb', yTicks: 'l'}), {indexAxis: 'y'}),
    plugins: [frame]
  });
}

function addText(cls, text, css) {
  var d = document.createElement('div');
  d.className = cls;
  d.textContent = text;
  Object.assign(d.style, css);
  document.body.appendChild(d);
  return d;
}

panels.forEach(drawPanel);

panels.forEach(function(p, i) {
  addText('ytitle', p.title, {left: p.titlePos[0] + 'px', top: p.titlePos[1] + 'px', color: p.titleColor});
  addText('r2', 'R\u00b2 = ' + r2Values[i], {left: p.r2Pos[0] + 'px', top: p.r2Pos[1] + 'px'});
});

headers.forEach(function(h) {
  addText('hdr', h.text, {left: h.x + 'px', top: h.y + 'px', width: h.w + 'px', height: h.h + 'px',
    background: h.bg, paddingLeft: (2 * h.shift) + 'px'});
});

addText('xtitle', 'Clinton Creek Microbialite (%)', {left: '491px', top: '702px'});
</script>
</body>
</html>
